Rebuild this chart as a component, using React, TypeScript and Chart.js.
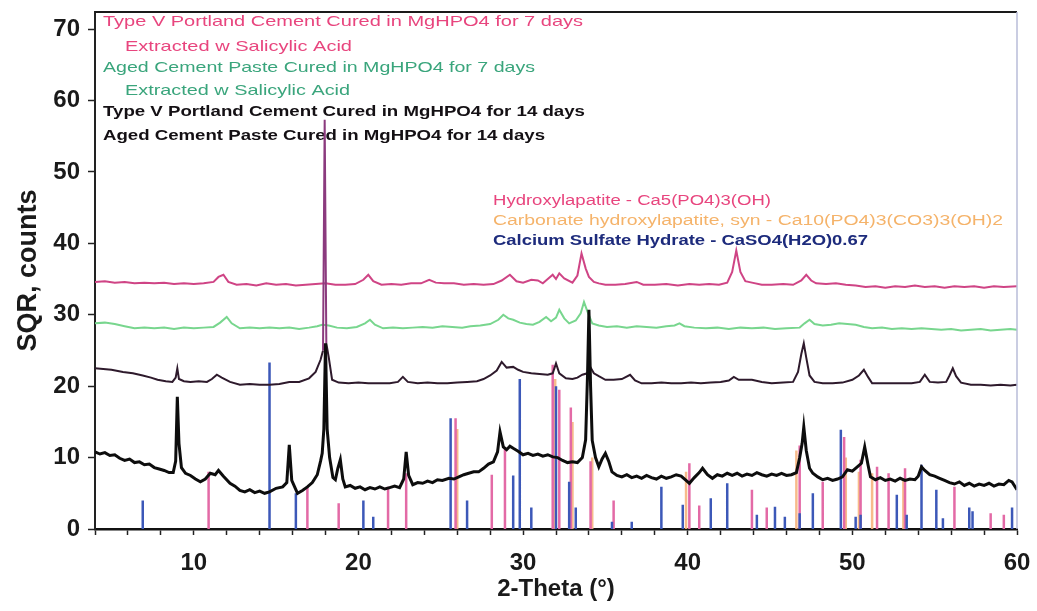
import React, { useEffect, useRef } from 'react';
import { Chart, registerables } from 'chart.js';

Chart.register(...registerables);

// ---------- axis ranges / ticks ----------
const X_MIN = 4;
const X_MAX = 60;
const Y_MIN = 0;
const Y_MAX = 72.4;
const xLabelValues = [10, 20, 30, 40, 50, 60];
const yTickValues = [0, 10, 20, 30, 40, 50, 60, 70];
const xAxisTitle = '2-Theta (°)';
const yAxisTitle = 'SQR, counts';

// ---------- measured traces [2-theta, counts] ----------
const typeV7dExtracted: [number, number][] = [
  [4.0,34.6],[4.6,34.7],[5.2,34.5],[5.8,34.6],[6.4,34.4],[7.0,34.5],[7.6,34.4],[8.2,34.5],[8.8,34.3],[9.4,34.4],[10.0,34.3],[10.6,34.4],[11.2,34.6],[11.5,35.3],[11.8,35.6],[12.1,34.6],[12.6,34.2],[13.2,34.3],[13.8,34.1],[14.4,34.4],[15.0,34.2],[15.6,34.3],[16.2,34.1],[16.8,34.2],[17.4,34.3],[18.0,34.4],[18.6,34.2],[19.2,34.2],[19.8,34.3],[20.3,34.9],[20.6,35.6],[20.9,34.7],[21.4,34.2],[22.0,34.3],[22.6,34.2],[23.2,34.4],[23.8,34.4],[24.3,34.9],[24.7,34.5],[25.2,34.4],[25.8,34.4],[26.4,34.2],[27.0,34.3],[27.6,34.2],[28.2,34.3],[28.7,34.8],[29.2,35.6],[29.6,34.7],[30.0,34.5],[30.5,34.9],[30.9,34.8],[31.2,34.4],[31.5,35.0],[31.8,35.6],[32.0,35.0],[32.2,35.8],[32.5,35.1],[33.0,34.5],[33.3,35.5],[33.55,38.6],[33.8,36.5],[34.0,35.3],[34.3,34.6],[34.6,34.4],[35.0,34.2],[35.6,34.2],[36.2,34.3],[36.9,34.6],[37.3,34.2],[38.0,34.2],[38.7,34.3],[39.4,34.1],[40.1,34.3],[40.7,34.2],[41.3,34.3],[41.9,34.2],[42.4,34.5],[42.7,36.0],[42.95,39.0],[43.2,36.0],[43.5,34.7],[43.9,34.5],[44.5,34.2],[45.1,34.2],[45.8,34.3],[46.4,34.2],[46.9,34.8],[47.2,35.6],[47.5,34.8],[47.8,34.4],[48.4,34.3],[49.0,34.4],[49.6,34.2],[50.2,34.1],[50.8,33.9],[51.4,34.0],[52.0,33.8],[52.6,34.0],[53.2,33.9],[53.8,34.1],[54.4,33.9],[55.0,34.0],[55.6,33.8],[56.2,34.0],[56.8,33.9],[57.4,34.0],[58.0,33.8],[58.6,34.0],[59.2,33.9],[60.0,34.0]
];

const aged7dExtracted: [number, number][] = [
  [4.0,28.8],[4.6,28.9],[5.2,28.7],[5.8,28.4],[6.4,28.1],[7.0,28.2],[7.6,28.1],[8.2,28.2],[8.8,28.0],[9.4,28.2],[10.0,28.1],[10.6,28.2],[11.2,28.3],[11.6,28.9],[12.0,29.7],[12.3,28.8],[12.8,28.1],[13.4,28.2],[14.0,28.1],[14.6,28.2],[15.2,28.1],[15.8,28.2],[16.4,28.0],[17.0,28.2],[17.5,28.4],[17.8,28.6],[18.2,28.5],[18.7,28.2],[19.3,28.1],[19.9,28.3],[20.4,28.8],[20.7,29.3],[21.0,28.6],[21.5,28.1],[22.1,28.2],[22.7,28.1],[23.3,28.2],[23.9,28.3],[24.5,28.2],[25.1,28.4],[25.7,28.3],[26.3,28.2],[26.8,28.4],[27.4,28.5],[28.0,28.7],[28.5,29.3],[28.8,30.0],[29.1,29.5],[29.4,29.3],[29.8,28.9],[30.2,28.7],[30.6,28.6],[31.0,29.0],[31.4,29.7],[31.7,29.1],[32.0,29.6],[32.2,30.7],[32.5,29.5],[32.8,28.8],[33.2,29.2],[33.5,30.2],[33.7,31.8],[33.9,30.5],[34.2,28.8],[34.6,28.5],[35.1,28.3],[35.7,28.4],[36.3,28.2],[36.9,28.4],[37.5,28.3],[38.1,28.2],[38.7,28.4],[39.2,28.5],[39.5,28.8],[39.8,28.4],[40.4,28.2],[41.1,28.1],[41.8,28.2],[42.5,28.0],[43.2,28.2],[43.9,28.1],[44.6,28.2],[45.3,28.0],[46.0,28.1],[46.8,28.2],[47.1,28.8],[47.4,29.3],[47.7,28.7],[48.2,28.5],[48.7,28.6],[49.2,28.8],[49.7,28.7],[50.2,28.6],[50.7,28.3],[51.2,28.1],[51.8,28.2],[52.4,28.0],[53.0,28.1],[53.6,28.0],[54.2,28.1],[54.8,28.0],[55.4,27.9],[56.0,28.0],[56.6,27.8],[57.2,27.9],[57.8,28.0],[58.4,27.8],[59.0,27.9],[59.6,28.0],[60.0,27.9]
];

const typeV14d: [number, number][] = [
  [4.0,22.5],[4.5,22.4],[5.0,22.3],[5.7,22.0],[6.3,21.8],[6.9,21.5],[7.4,21.2],[7.8,20.9],[8.3,20.7],[8.7,20.6],[8.9,21.2],[9.0,22.5],[9.1,21.0],[9.4,20.7],[9.8,20.6],[10.3,20.7],[10.8,20.6],[11.1,21.0],[11.4,21.6],[11.7,21.2],[12.2,20.6],[12.8,20.2],[13.4,20.3],[14.0,20.2],[14.6,20.2],[15.2,20.3],[15.8,20.6],[16.4,20.6],[17.0,21.1],[17.4,22.0],[17.7,23.7],[17.85,25.0],[17.95,57.3],[18.05,26.0],[18.2,24.0],[18.4,20.9],[18.8,20.5],[19.4,20.4],[20.0,20.5],[20.6,20.4],[21.2,20.4],[21.9,20.4],[22.4,20.6],[22.7,21.3],[23.0,20.6],[23.6,20.4],[24.2,20.5],[24.8,20.4],[25.4,20.4],[26.0,20.5],[26.6,20.6],[27.2,20.7],[27.6,21.0],[28.0,21.5],[28.4,22.2],[28.7,23.4],[29.0,22.6],[29.4,22.7],[29.7,22.3],[30.0,22.0],[30.5,21.8],[31.0,21.7],[31.5,21.6],[31.8,21.8],[32.0,23.2],[32.2,21.8],[32.6,21.1],[33.0,21.0],[33.3,21.2],[33.6,21.6],[33.9,21.8],[34.1,22.6],[34.3,21.8],[34.6,21.4],[35.0,20.9],[35.5,20.9],[36.0,21.0],[36.5,21.6],[36.8,20.8],[37.2,20.4],[37.8,20.4],[38.4,20.5],[39.0,20.4],[39.6,20.4],[40.2,20.5],[40.8,20.4],[41.4,20.5],[42.0,20.6],[42.5,20.8],[42.8,21.3],[43.1,20.9],[43.9,20.9],[44.5,20.6],[45.1,20.4],[45.8,20.5],[46.4,20.6],[46.7,22.0],[46.9,24.5],[47.05,26.0],[47.2,24.0],[47.4,21.5],[47.7,20.6],[48.2,20.4],[48.8,20.4],[49.4,20.5],[50.0,20.9],[50.4,21.5],[50.7,22.3],[50.95,21.3],[51.2,20.4],[51.8,20.4],[52.4,20.4],[53.0,20.4],[53.6,20.4],[54.1,20.6],[54.4,21.6],[54.7,20.6],[55.2,20.5],[55.7,20.6],[55.9,21.5],[56.1,22.5],[56.3,21.4],[56.6,20.5],[57.2,20.2],[57.8,20.2],[58.4,20.1],[59.0,20.2],[59.6,20.1],[60.0,20.2]
];

const aged14d: [number, number][] = [
  [4.0,10.8],[4.3,10.5],[4.6,10.7],[4.9,10.3],[5.2,10.4],[5.5,9.9],[5.8,9.6],[6.1,9.8],[6.4,9.3],[6.7,9.4],[7.0,9.0],[7.3,9.1],[7.6,8.6],[7.9,8.4],[8.2,8.2],[8.5,7.9],[8.75,7.9],[8.9,9.5],[9.0,18.5],[9.1,12.0],[9.25,8.6],[9.5,7.8],[9.8,7.5],[10.1,7.0],[10.4,6.6],[10.7,7.0],[11.0,7.8],[11.3,7.6],[11.5,8.2],[11.8,7.4],[12.2,6.4],[12.5,6.0],[12.8,5.4],[13.1,5.2],[13.4,5.5],[13.7,5.1],[14.0,5.3],[14.3,5.0],[14.6,5.2],[15.0,5.7],[15.4,5.9],[15.65,6.5],[15.8,11.8],[15.95,6.8],[16.3,5.0],[16.6,5.4],[16.9,5.9],[17.2,6.5],[17.5,7.6],[17.7,9.5],[17.8,10.6],[17.9,14.0],[18.0,26.0],[18.1,14.0],[18.25,10.0],[18.45,7.2],[18.6,6.9],[18.75,8.5],[18.9,9.7],[19.05,7.0],[19.2,5.9],[19.5,6.1],[19.8,5.7],[20.1,5.9],[20.4,5.5],[20.7,5.8],[21.0,5.6],[21.3,5.9],[21.6,5.6],[21.9,5.8],[22.2,6.0],[22.5,5.8],[22.75,7.0],[22.9,10.8],[23.05,7.5],[23.3,6.2],[23.6,6.5],[23.9,6.4],[24.2,6.7],[24.5,6.5],[24.8,6.9],[25.1,6.8],[25.5,7.1],[25.8,7.0],[26.1,7.3],[26.4,7.6],[26.7,7.8],[27.0,8.0],[27.3,8.0],[27.6,8.5],[27.9,9.1],[28.2,9.4],[28.45,10.8],[28.6,13.6],[28.8,11.5],[29.0,11.1],[29.2,11.6],[29.4,11.3],[29.7,10.9],[30.0,10.4],[30.3,10.6],[30.6,10.3],[30.9,10.5],[31.2,10.2],[31.5,10.4],[31.8,10.1],[32.1,10.0],[32.4,9.6],[32.7,9.3],[33.0,9.4],[33.3,9.3],[33.6,10.0],[33.8,12.5],[33.92,22.0],[34.0,30.7],[34.1,20.0],[34.2,12.4],[34.4,10.0],[34.6,8.7],[34.8,9.8],[35.0,10.6],[35.2,9.5],[35.4,8.0],[35.7,7.5],[36.0,7.3],[36.3,7.6],[36.6,7.2],[36.9,7.4],[37.2,7.1],[37.5,7.5],[37.8,7.2],[38.1,7.0],[38.4,7.4],[38.7,7.1],[39.0,7.3],[39.3,7.6],[39.6,7.4],[39.9,6.8],[40.1,6.4],[40.4,7.2],[40.7,7.9],[40.9,8.5],[41.2,7.6],[41.5,7.1],[41.8,7.6],[42.1,7.4],[42.4,7.8],[42.7,7.5],[43.0,7.8],[43.3,7.4],[43.6,7.7],[43.9,7.5],[44.2,7.9],[44.5,7.6],[44.8,7.4],[45.1,7.7],[45.4,7.5],[45.7,7.8],[46.0,7.5],[46.3,7.6],[46.6,7.9],[46.8,10.0],[46.95,12.0],[47.05,14.3],[47.2,11.0],[47.4,8.5],[47.6,7.8],[47.9,7.3],[48.2,6.9],[48.5,7.1],[48.8,6.8],[49.1,7.0],[49.4,7.3],[49.7,8.3],[50.0,8.1],[50.3,8.7],[50.55,9.2],[50.75,11.5],[50.95,9.0],[51.1,7.3],[51.4,6.9],[51.7,7.2],[52.0,6.8],[52.3,7.0],[52.6,6.7],[52.9,7.1],[53.2,6.8],[53.5,7.0],[53.8,6.9],[54.0,7.4],[54.2,8.7],[54.4,8.2],[54.7,7.6],[55.0,7.4],[55.3,7.1],[55.6,6.8],[55.9,6.5],[56.2,6.3],[56.5,6.6],[56.8,6.1],[57.1,6.4],[57.4,6.0],[57.7,6.3],[58.0,6.1],[58.3,6.4],[58.6,6.0],[58.9,6.3],[59.2,6.2],[59.5,6.8],[59.7,6.6],[60.0,5.5]
];

// ---------- reference stick patterns [2-theta, height] ----------
const hydroxylapatiteSticks: [number, number][] = [
  [10.9,8.0],[16.9,5.9],[18.8,3.6],[21.8,5.9],[22.9,7.8],[25.9,15.5],[28.1,7.6],[28.9,11.5],[31.8,23.0],[32.2,19.5],[32.9,17.0],[34.1,9.5],[35.5,4.0],[40.1,9.2],[40.7,3.3],[43.9,5.5],[44.8,3.0],[46.8,11.7],[48.2,6.6],[49.5,12.9],[50.5,9.7],[51.5,8.7],[52.2,7.8],[53.2,8.5],[56.2,5.9],[58.4,2.2],[59.2,2.0]
];

const carbonateHydroxylapatiteSticks: [number, number][] = [
  [26.0,14.0],[31.95,21.0],[33.0,15.0],[34.2,10.0],[39.9,8.0],[46.6,11.0],[49.6,10.0],[50.4,8.0],[51.2,7.8],[53.1,7.0]
];

const calciumSulfateSticks: [number, number][] = [
  [6.9,4.0],[14.6,23.3],[16.2,5.0],[20.3,4.0],[20.9,1.7],[25.6,15.5],[26.6,4.0],[29.4,7.5],[29.8,21.0],[30.5,3.0],[32.0,20.0],[32.8,6.6],[33.2,3.0],[35.4,1.0],[36.6,1.0],[38.4,5.9],[39.7,3.4],[41.4,4.3],[42.4,6.4],[44.2,2.0],[45.3,3.1],[45.9,1.7],[46.8,2.2],[47.6,5.0],[49.3,13.9],[50.2,1.7],[50.5,2.0],[52.7,4.8],[53.3,2.0],[54.2,9.0],[55.1,5.5],[55.5,1.5],[57.1,3.0],[57.3,2.5],[59.7,3.0]
];

// ---------- in-plot annotation texts ----------
const sampleLabels = [
  'Type V Portland Cement Cured in MgHPO4 for 7 days',
  'Extracted w Salicylic Acid',
  'Aged Cement Paste Cured in MgHPO4 for 7 days',
  'Extracted w Salicylic Acid',
  'Type V Portland Cement Cured in MgHPO4 for 14 days',
  'Aged Cement Paste Cured in MgHPO4 for 14 days',
];
const phaseLabels = [
  'Hydroxylapatite - Ca5(PO4)3(OH)',
  'Carbonate hydroxylapatite, syn - Ca10(PO4)3(CO3)3(OH)2',
  'Calcium Sulfate Hydrate - CaSO4(H2O)0.67',
];

// layout of annotations (x start, y centre, target width, font, colour)
const sampleLabelLayout = [
  { x: 103, y: 22, w: 480, font: '15px "Liberation Sans"', color: '#e8457e' },
  { x: 125, y: 47, w: 227, font: '15px "Liberation Sans"', color: '#e8457e' },
  { x: 103, y: 68, w: 432, font: '15px "Liberation Sans"', color: '#3aa57c' },
  { x: 125, y: 91, w: 225, font: '15px "Liberation Sans"', color: '#3aa57c' },
  { x: 103, y: 112, w: 482, font: 'bold 15px "Liberation Sans"', color: '#141014' },
  { x: 103, y: 136, w: 442, font: 'bold 15px "Liberation Sans"', color: '#141014' },
];
const phaseLabelLayout = [
  { x: 493, y: 201, w: 278, font: '14px "Liberation Sans"', color: '#e8457e' },
  { x: 493, y: 221, w: 510, font: '14px "Liberation Sans"', color: '#f5b36a' },
  { x: 493, y: 241, w: 375, font: 'bold 14px "Liberation Sans"', color: '#1d2b7c' },
];

const toPoints = (arr: [number, number][]) => arr.map(([x, y]) => ({ x, y }));
const toSticks = (arr: [number, number][]) =>
  arr.flatMap(([x, h]) => [{ x, y: 0 }, { x, y: h }, { x, y: null as any }]);

function drawFitted(ctx: CanvasRenderingContext2D, text: string, l: any) {
  ctx.save();
  ctx.font = l.font;
  const m = ctx.measureText(text).width;
  ctx.translate(l.x, l.y);
  ctx.scale(l.w / m, 1);
  ctx.fillStyle = l.color;
  ctx.textBaseline = 'middle';
  ctx.textAlign = 'left';
  ctx.fillText(text, 0, 0);
  ctx.restore();
}

const annotationPlugin = {
  id: 'xrdAnnotations',
  beforeDatasetsDraw(chart: any) {
    const ctx = chart.ctx as CanvasRenderingContext2D;
    sampleLabels.forEach((t, i) => drawFitted(ctx, t, sampleLabelLayout[i]));
    phaseLabels.forEach((t, i) => drawFitted(ctx, t, phaseLabelLayout[i]));
  },
  afterDraw(chart: any) {
    const { ctx, chartArea } = chart;
    ctx.save();
    ctx.strokeStyle = '#1a1a1a';
    ctx.lineWidth = 2;
    ctx.beginPath();
    ctx.moveTo(chartArea.left, chartArea.top);
    ctx.lineTo(chartArea.right, chartArea.top);
    ctx.stroke();
    ctx.strokeStyle = '#b8bcd8';
    ctx.lineWidth = 1.5;
    ctx.beginPath();
    ctx.moveTo(chartArea.right, chartArea.top);
    ctx.lineTo(chartArea.right, chartArea.bottom);
    ctx.stroke();
    ctx.restore();
  },
};

export default function App() {
  const ref = useRef<HTMLCanvasElement | null>(null);

  useEffect(() => {
    if (!ref.current) return;
    const tickFont = { family: '"Liberation Sans", Arial, sans-serif', size: 24, weight: 'bold' as const };
    const chart = new Chart(ref.current, {
      type: 'line',
      data: {
        datasets: [
          {
            label: sampleLabels[0],
            data: toPoints(typeV7dExtracted),
            borderColor: '#cf4485',
            borderWidth: 2,
            pointRadius: 0,
            order: 3,
          },
          {
            label: sampleLabels[2],
            data: toPoints(aged7dExtracted),
            borderColor: '#78d68e',
            borderWidth: 2,
            pointRadius: 0,
            order: 4,
          },
          {
            label: sampleLabels[4],
            data: toPoints(typeV14d),
            borderColor: '#2e1a2c',
            borderWidth: 2,
            pointRadius: 0,
            order: 2,
            segment: {
              borderColor: (c: any) =>
                Math.max(c.p0.parsed.y, c.p1.parsed.y) > 40 ? '#8b3a7e' : undefined,
            },
          },
          {
            label: sampleLabels[5],
            data: toPoints(aged14d),
            borderColor: '#0d0d0d',
            borderWidth: 3,
            pointRadius: 0,
            order: 1,
          },
          {
            label: phaseLabels[1],
            data: toSticks(carbonateHydroxylapatiteSticks),
            borderColor: 'rgba(246,180,126,0.9)',
            borderWidth: 2.5,
            pointRadius: 0,
            spanGaps: false,
            order: 12,
          },
          {
            label: phaseLabels[0],
            data: toSticks(hydroxylapatiteSticks),
            borderColor: '#e36aa6',
            borderWidth: 2.5,
            pointRadius: 0,
            spanGaps: false,
            order: 11,
          },
          {
            label: phaseLabels[2],
            data: toSticks(calciumSulfateSticks),
            borderColor: '#3c58b8',
            borderWidth: 2.5,
            pointRadius: 0,
            spanGaps: false,
            order: 10,
          },
        ],
      },
      options: {
        responsive: false,
        animation: false,
        devicePixelRatio: 1,
        events: [],
        layout: { padding: { top: 12, right: 20, left: 0, bottom: 0 } },
        elements: { line: { tension: 0, borderCapStyle: 'butt' } },
        plugins: {
          legend: { display: false },
          tooltip: { enabled: false },
        },
        scales: {
          x: {
            type: 'linear',
            min: X_MIN,
            max: X_MAX,
            border: { display: true, color: '#111', width: 2.5 },
            grid: { drawOnChartArea: false, drawTicks: true, tickLength: 6, tickColor: '#222', tickWidth: 1.5 },
            ticks: {
              stepSize: 2,
              autoSkip: false,
              maxRotation: 0,
              padding: 14,
              color: '#1a1a1a',
              font: tickFont,
              callback: (v: any) => (xLabelValues.includes(Number(v)) ? String(v) : ''),
            },
            title: {
              display: true,
              text: xAxisTitle,
              color: '#1a1a1a',
              font: { family: '"Liberation Sans", Arial, sans-serif', size: 24, weight: 'bold' },
              padding: { top: 0, bottom: 7 },
            },
            afterFit: (s: any) => {
              s.height = 82;
              s.paddingLeft = 0;
              s.paddingRight = 0;
            },
          },
          y: {
            type: 'linear',
            min: Y_MIN,
            max: Y_MAX,
            border: { display: true, color: '#222', width: 2 },
            grid: { drawOnChartArea: false, drawTicks: true, tickLength: 7, tickColor: '#222', tickWidth: 1.5 },
            afterBuildTicks: (s: any) => {
              s.ticks = yTickValues.map((v) => ({ value: v }));
            },
            ticks: {
              padding: 8,
              color: '#1a1a1a',
              font: tickFont,
            },
            title: {
              display: true,
              text: yAxisTitle,
              color: '#1a1a1a',
              font: { family: '"Liberation Sans", Arial, sans-serif', size: 27, weight: 'bold' },
              padding: { top: 12, bottom: 0 },
            },
            afterFit: (s: any) => {
              s.width = 95;
              s.paddingTop = 0;
              s.paddingBottom = 0;
            },
          },
        },
      },
      plugins: [annotationPlugin],
    });
    return () => chart.destroy();
  }, []);

  return (
    <div style={{ position: 'absolute', left: 0, top: 0, width: 1037, height: 611, background: '#fff' }}>
      <canvas ref={ref} width={1037} height={611} style={{ display: 'block' }} />
    </div>
  );
}
